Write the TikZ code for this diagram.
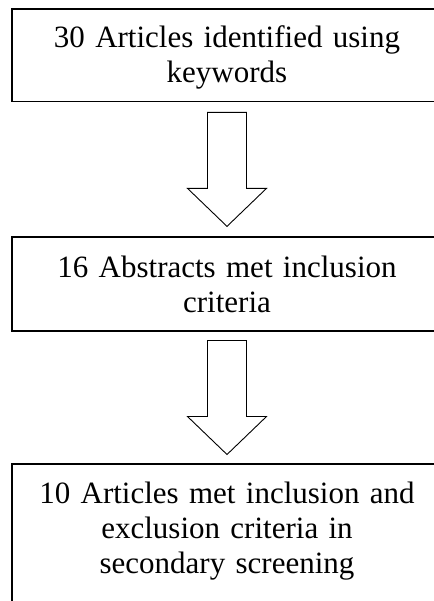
\documentclass[tikz,border=0pt]{standalone}
\usepackage{fontspec}
\setmainfont{Liberation Serif}
\usetikzlibrary{positioning, calc}
\tikzset{
  stagebox/.style={rectangle, draw=black, line width=1.3pt,
    minimum width=430pt, text width=424pt, align=center,
    inner sep=0pt, font=\fontsize{31}{35}\selectfont,
    execute at begin node={\rule{0pt}{26.5pt}}},
  blockarrow/.pic={
    \draw[line width=0.9pt, line join=miter]
      (-19.5,-57) -- (19.5,-57) -- (19.5,19) -- (39.5,19) -- (0,57)
      -- (-39.5,19) -- (-19.5,19) -- cycle;
  }
}
\begin{document}
\begin{tikzpicture}[x=1pt, y=-1pt]
  \useasboundingbox (0,0) rectangle (433,601);

  % Stage boxes
  \node[stagebox, minimum height=92.7pt] (found) at (227,55.4)
    {30 Articles identified using\\keywords};
  \node[stagebox, minimum height=94pt] (abstr) at (227,284)
    {16 Abstracts met inclusion\\criteria\rule[-5.5pt]{0pt}{5.5pt}};
  \node[stagebox, minimum height=148pt] (final) at (227,538)
    {10 Articles met inclusion and\\exclusion criteria in\\secondary screening\rule[-26.5pt]{0pt}{26.5pt}};

  % Block arrows between stages
  \pic at ($(found.south)!0.5!(abstr.north)$) {blockarrow};
  \pic at ($(abstr.south)!0.5!(final.north)$) {blockarrow};
\end{tikzpicture}
\end{document}
